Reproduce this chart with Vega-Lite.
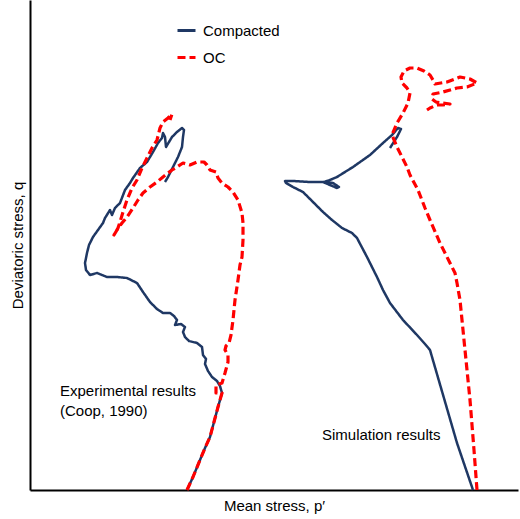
{
  "$schema": "https://vega.github.io/schema/vega-lite/v6.json",
  "width": 488,
  "height": 490,
  "autosize": {"type": "none"},
  "padding": {"left": 30, "top": 0, "right": 2, "bottom": 29},
  "background": "white",
  "config": {
    "view": {"stroke": null},
    "font": "Liberation Sans",
    "axis": {
      "domainColor": "#000000",
      "domainWidth": 2,
      "ticks": false,
      "labels": false,
      "grid": false,
      "titleFont": "Liberation Sans",
      "titleFontSize": 15,
      "titleFontWeight": "normal",
      "titleColor": "#000000"
    },
    "legend": {
      "labelFont": "Liberation Sans",
      "labelFontSize": 15,
      "labelColor": "#000000"
    }
  },
  "datasets": {
    "curves": [
      {"path":"expC","series":"Compacted","i":0,"p":187,"q":0},
      {"path":"expC","series":"Compacted","i":1,"p":193,"q":13},
      {"path":"expC","series":"Compacted","i":2,"p":200,"q":30},
      {"path":"expC","series":"Compacted","i":3,"p":205,"q":42},
      {"path":"expC","series":"Compacted","i":4,"p":210,"q":53},
      {"path":"expC","series":"Compacted","i":5,"p":214,"q":68},
      {"path":"expC","series":"Compacted","i":6,"p":218,"q":83},
      {"path":"expC","series":"Compacted","i":7,"p":222,"q":97},
      {"path":"expC","series":"Compacted","i":8,"p":220,"q":104},
      {"path":"expC","series":"Compacted","i":9,"p":217,"q":109},
      {"path":"expC","series":"Compacted","i":10,"p":212,"q":113},
      {"path":"expC","series":"Compacted","i":11,"p":208,"q":119},
      {"path":"expC","series":"Compacted","i":12,"p":205,"q":126},
      {"path":"expC","series":"Compacted","i":13,"p":206,"q":131},
      {"path":"expC","series":"Compacted","i":14,"p":203,"q":135},
      {"path":"expC","series":"Compacted","i":15,"p":202,"q":143},
      {"path":"expC","series":"Compacted","i":16,"p":197,"q":147},
      {"path":"expC","series":"Compacted","i":17,"p":189,"q":149},
      {"path":"expC","series":"Compacted","i":18,"p":185,"q":153},
      {"path":"expC","series":"Compacted","i":19,"p":183,"q":158},
      {"path":"expC","series":"Compacted","i":20,"p":185,"q":163},
      {"path":"expC","series":"Compacted","i":21,"p":181,"q":166},
      {"path":"expC","series":"Compacted","i":22,"p":175,"q":165},
      {"path":"expC","series":"Compacted","i":23,"p":177,"q":170},
      {"path":"expC","series":"Compacted","i":24,"p":174,"q":174},
      {"path":"expC","series":"Compacted","i":25,"p":170,"q":177},
      {"path":"expC","series":"Compacted","i":26,"p":163,"q":177},
      {"path":"expC","series":"Compacted","i":27,"p":157,"q":181},
      {"path":"expC","series":"Compacted","i":28,"p":150,"q":188},
      {"path":"expC","series":"Compacted","i":29,"p":143,"q":198},
      {"path":"expC","series":"Compacted","i":30,"p":137,"q":207},
      {"path":"expC","series":"Compacted","i":31,"p":127,"q":212},
      {"path":"expC","series":"Compacted","i":32,"p":117,"q":213},
      {"path":"expC","series":"Compacted","i":33,"p":107,"q":213},
      {"path":"expC","series":"Compacted","i":34,"p":97,"q":217},
      {"path":"expC","series":"Compacted","i":35,"p":90,"q":215},
      {"path":"expC","series":"Compacted","i":36,"p":86,"q":220},
      {"path":"expC","series":"Compacted","i":37,"p":85,"q":227},
      {"path":"expC","series":"Compacted","i":38,"p":87,"q":237},
      {"path":"expC","series":"Compacted","i":39,"p":89,"q":245},
      {"path":"expC","series":"Compacted","i":40,"p":93,"q":253},
      {"path":"expC","series":"Compacted","i":41,"p":98,"q":260},
      {"path":"expC","series":"Compacted","i":42,"p":103,"q":267},
      {"path":"expC","series":"Compacted","i":43,"p":105,"q":272},
      {"path":"expC","series":"Compacted","i":44,"p":110,"q":280},
      {"path":"expC","series":"Compacted","i":45,"p":112,"q":275},
      {"path":"expC","series":"Compacted","i":46,"p":115,"q":282},
      {"path":"expC","series":"Compacted","i":47,"p":120,"q":287},
      {"path":"expC","series":"Compacted","i":48,"p":125,"q":300},
      {"path":"expC","series":"Compacted","i":49,"p":130,"q":307},
      {"path":"expC","series":"Compacted","i":50,"p":133,"q":312},
      {"path":"expC","series":"Compacted","i":51,"p":140,"q":322},
      {"path":"expC","series":"Compacted","i":52,"p":147,"q":328},
      {"path":"expC","series":"Compacted","i":53,"p":153,"q":338},
      {"path":"expC","series":"Compacted","i":54,"p":158,"q":347},
      {"path":"expC","series":"Compacted","i":55,"p":162,"q":352},
      {"path":"expC","series":"Compacted","i":56,"p":163,"q":357},
      {"path":"expC","series":"Compacted","i":57,"p":165,"q":353},
      {"path":"expC","series":"Compacted","i":58,"p":166,"q":343},
      {"path":"expC","series":"Compacted","i":59,"p":169,"q":348},
      {"path":"expC","series":"Compacted","i":60,"p":172,"q":353},
      {"path":"expC","series":"Compacted","i":61,"p":177,"q":358},
      {"path":"expC","series":"Compacted","i":62,"p":182,"q":362},
      {"path":"expC","series":"Compacted","i":63,"p":184,"q":360},
      {"path":"expC","series":"Compacted","i":64,"p":183,"q":353},
      {"path":"expC","series":"Compacted","i":65,"p":182,"q":343},
      {"path":"expC","series":"Compacted","i":66,"p":178,"q":333},
      {"path":"expC","series":"Compacted","i":67,"p":173,"q":323},
      {"path":"expC","series":"Compacted","i":68,"p":168,"q":313},
      {"path":"expC","series":"Compacted","i":69,"p":165,"q":308},

      {"path":"simC","series":"Compacted","i":0,"p":473,"q":0},
      {"path":"simC","series":"Compacted","i":1,"p":457,"q":47},
      {"path":"simC","series":"Compacted","i":2,"p":430,"q":140},
      {"path":"simC","series":"Compacted","i":3,"p":425,"q":146},
      {"path":"simC","series":"Compacted","i":4,"p":417,"q":155},
      {"path":"simC","series":"Compacted","i":5,"p":403,"q":170},
      {"path":"simC","series":"Compacted","i":6,"p":390,"q":187},
      {"path":"simC","series":"Compacted","i":7,"p":383,"q":200},
      {"path":"simC","series":"Compacted","i":8,"p":377,"q":213},
      {"path":"simC","series":"Compacted","i":9,"p":367,"q":233},
      {"path":"simC","series":"Compacted","i":10,"p":357,"q":252},
      {"path":"simC","series":"Compacted","i":11,"p":352,"q":257},
      {"path":"simC","series":"Compacted","i":12,"p":342,"q":262},
      {"path":"simC","series":"Compacted","i":13,"p":332,"q":270},
      {"path":"simC","series":"Compacted","i":14,"p":323,"q":278},
      {"path":"simC","series":"Compacted","i":15,"p":313,"q":288},
      {"path":"simC","series":"Compacted","i":16,"p":303,"q":298},
      {"path":"simC","series":"Compacted","i":17,"p":293,"q":303},
      {"path":"simC","series":"Compacted","i":18,"p":286,"q":307},
      {"path":"simC","series":"Compacted","i":19,"p":285,"q":309},
      {"path":"simC","series":"Compacted","i":20,"p":293,"q":309},
      {"path":"simC","series":"Compacted","i":21,"p":310,"q":308},
      {"path":"simC","series":"Compacted","i":22,"p":323,"q":308},
      {"path":"simC","series":"Compacted","i":23,"p":330,"q":305},
      {"path":"simC","series":"Compacted","i":24,"p":337,"q":302},
      {"path":"simC","series":"Compacted","i":25,"p":339,"q":303},
      {"path":"simC","series":"Compacted","i":26,"p":333,"q":307},
      {"path":"simC","series":"Compacted","i":27,"p":324,"q":308},
      {"path":"simC","series":"Compacted","i":28,"p":330,"q":310},
      {"path":"simC","series":"Compacted","i":29,"p":337,"q":313},
      {"path":"simC","series":"Compacted","i":30,"p":353,"q":323},
      {"path":"simC","series":"Compacted","i":31,"p":370,"q":335},
      {"path":"simC","series":"Compacted","i":32,"p":383,"q":347},
      {"path":"simC","series":"Compacted","i":33,"p":392,"q":355},
      {"path":"simC","series":"Compacted","i":34,"p":398,"q":362},
      {"path":"simC","series":"Compacted","i":35,"p":401,"q":361},
      {"path":"simC","series":"Compacted","i":36,"p":397,"q":353},
      {"path":"simC","series":"Compacted","i":37,"p":390,"q":342},

      {"path":"expOC","series":"OC","i":0,"p":187,"q":0},
      {"path":"expOC","series":"OC","i":1,"p":193,"q":13},
      {"path":"expOC","series":"OC","i":2,"p":200,"q":30},
      {"path":"expOC","series":"OC","i":3,"p":205,"q":42},
      {"path":"expOC","series":"OC","i":4,"p":210,"q":53},
      {"path":"expOC","series":"OC","i":5,"p":214,"q":68},
      {"path":"expOC","series":"OC","i":6,"p":218,"q":83},
      {"path":"expOC","series":"OC","i":7,"p":222,"q":97},
      {"path":"expOC","series":"OC","i":8,"p":216,"q":97},
      {"path":"expOC","series":"OC","i":9,"p":216,"q":105},
      {"path":"expOC","series":"OC","i":10,"p":222,"q":107},
      {"path":"expOC","series":"OC","i":11,"p":225,"q":117},
      {"path":"expOC","series":"OC","i":12,"p":228,"q":128},
      {"path":"expOC","series":"OC","i":13,"p":228,"q":135},
      {"path":"expOC","series":"OC","i":14,"p":225,"q":140},
      {"path":"expOC","series":"OC","i":15,"p":226,"q":144},
      {"path":"expOC","series":"OC","i":16,"p":229,"q":147},
      {"path":"expOC","series":"OC","i":17,"p":231,"q":155},
      {"path":"expOC","series":"OC","i":18,"p":233,"q":170},
      {"path":"expOC","series":"OC","i":19,"p":235,"q":190},
      {"path":"expOC","series":"OC","i":20,"p":238,"q":210},
      {"path":"expOC","series":"OC","i":21,"p":240,"q":225},
      {"path":"expOC","series":"OC","i":22,"p":242,"q":233},
      {"path":"expOC","series":"OC","i":23,"p":243,"q":250},
      {"path":"expOC","series":"OC","i":24,"p":243,"q":267},
      {"path":"expOC","series":"OC","i":25,"p":242,"q":277},
      {"path":"expOC","series":"OC","i":26,"p":238,"q":290},
      {"path":"expOC","series":"OC","i":27,"p":233,"q":298},
      {"path":"expOC","series":"OC","i":28,"p":228,"q":303},
      {"path":"expOC","series":"OC","i":29,"p":222,"q":307},
      {"path":"expOC","series":"OC","i":30,"p":218,"q":312},
      {"path":"expOC","series":"OC","i":31,"p":216,"q":318},
      {"path":"expOC","series":"OC","i":32,"p":210,"q":320},
      {"path":"expOC","series":"OC","i":33,"p":207,"q":325},
      {"path":"expOC","series":"OC","i":34,"p":204,"q":328},
      {"path":"expOC","series":"OC","i":35,"p":197,"q":328},
      {"path":"expOC","series":"OC","i":36,"p":190,"q":325},
      {"path":"expOC","series":"OC","i":37,"p":183,"q":327},
      {"path":"expOC","series":"OC","i":38,"p":177,"q":323},
      {"path":"expOC","series":"OC","i":39,"p":172,"q":320},
      {"path":"expOC","series":"OC","i":40,"p":163,"q":313},
      {"path":"expOC","series":"OC","i":41,"p":157,"q":308},
      {"path":"expOC","series":"OC","i":42,"p":150,"q":303},
      {"path":"expOC","series":"OC","i":43,"p":143,"q":297},
      {"path":"expOC","series":"OC","i":44,"p":138,"q":290},
      {"path":"expOC","series":"OC","i":45,"p":133,"q":282},
      {"path":"expOC","series":"OC","i":46,"p":127,"q":273},
      {"path":"expOC","series":"OC","i":47,"p":122,"q":267},
      {"path":"expOC","series":"OC","i":48,"p":117,"q":260},
      {"path":"expOC","series":"OC","i":49,"p":114,"q":255},
      {"path":"expOC","series":"OC","i":50,"p":118,"q":262},
      {"path":"expOC","series":"OC","i":51,"p":120,"q":268},
      {"path":"expOC","series":"OC","i":52,"p":123,"q":278},
      {"path":"expOC","series":"OC","i":53,"p":127,"q":290},
      {"path":"expOC","series":"OC","i":54,"p":132,"q":302},
      {"path":"expOC","series":"OC","i":55,"p":137,"q":310},
      {"path":"expOC","series":"OC","i":56,"p":142,"q":322},
      {"path":"expOC","series":"OC","i":57,"p":147,"q":332},
      {"path":"expOC","series":"OC","i":58,"p":152,"q":342},
      {"path":"expOC","series":"OC","i":59,"p":157,"q":350},
      {"path":"expOC","series":"OC","i":60,"p":160,"q":362},
      {"path":"expOC","series":"OC","i":61,"p":163,"q":368},
      {"path":"expOC","series":"OC","i":62,"p":168,"q":372},
      {"path":"expOC","series":"OC","i":63,"p":172,"q":376},
      {"path":"expOC","series":"OC","i":64,"p":170,"q":370},

      {"path":"simOC","series":"OC","i":0,"p":477,"q":0},
      {"path":"simOC","series":"OC","i":1,"p":474,"q":40},
      {"path":"simOC","series":"OC","i":2,"p":470,"q":90},
      {"path":"simOC","series":"OC","i":3,"p":467,"q":120},
      {"path":"simOC","series":"OC","i":4,"p":465,"q":140},
      {"path":"simOC","series":"OC","i":5,"p":462,"q":170},
      {"path":"simOC","series":"OC","i":6,"p":460,"q":190},
      {"path":"simOC","series":"OC","i":7,"p":457,"q":207},
      {"path":"simOC","series":"OC","i":8,"p":455,"q":217},
      {"path":"simOC","series":"OC","i":9,"p":450,"q":227},
      {"path":"simOC","series":"OC","i":10,"p":440,"q":247},
      {"path":"simOC","series":"OC","i":11,"p":430,"q":270},
      {"path":"simOC","series":"OC","i":12,"p":425,"q":282},
      {"path":"simOC","series":"OC","i":13,"p":418,"q":300},
      {"path":"simOC","series":"OC","i":14,"p":410,"q":315},
      {"path":"simOC","series":"OC","i":15,"p":407,"q":323},
      {"path":"simOC","series":"OC","i":16,"p":397,"q":343},
      {"path":"simOC","series":"OC","i":17,"p":392,"q":355},
      {"path":"simOC","series":"OC","i":18,"p":397,"q":367},
      {"path":"simOC","series":"OC","i":19,"p":403,"q":377},
      {"path":"simOC","series":"OC","i":20,"p":408,"q":387},
      {"path":"simOC","series":"OC","i":21,"p":410,"q":397},
      {"path":"simOC","series":"OC","i":22,"p":407,"q":402},
      {"path":"simOC","series":"OC","i":23,"p":402,"q":407},
      {"path":"simOC","series":"OC","i":24,"p":401,"q":413},
      {"path":"simOC","series":"OC","i":25,"p":404,"q":419},
      {"path":"simOC","series":"OC","i":26,"p":410,"q":422},
      {"path":"simOC","series":"OC","i":27,"p":417,"q":422},
      {"path":"simOC","series":"OC","i":28,"p":424,"q":419},
      {"path":"simOC","series":"OC","i":29,"p":430,"q":415},
      {"path":"simOC","series":"OC","i":30,"p":433,"q":410},
      {"path":"simOC","series":"OC","i":31,"p":435,"q":406},
      {"path":"simOC","series":"OC","i":32,"p":447,"q":408},
      {"path":"simOC","series":"OC","i":33,"p":460,"q":413},
      {"path":"simOC","series":"OC","i":34,"p":470,"q":411},
      {"path":"simOC","series":"OC","i":35,"p":477,"q":407},
      {"path":"simOC","series":"OC","i":36,"p":467,"q":403},
      {"path":"simOC","series":"OC","i":37,"p":457,"q":402},
      {"path":"simOC","series":"OC","i":38,"p":443,"q":398},
      {"path":"simOC","series":"OC","i":39,"p":433,"q":396},
      {"path":"simOC","series":"OC","i":40,"p":432,"q":391},
      {"path":"simOC","series":"OC","i":41,"p":436,"q":388},
      {"path":"simOC","series":"OC","i":42,"p":442,"q":387},
      {"path":"simOC","series":"OC","i":43,"p":450,"q":386},
      {"path":"simOC","series":"OC","i":44,"p":443,"q":385},
      {"path":"simOC","series":"OC","i":45,"p":437,"q":385},
      {"path":"simOC","series":"OC","i":46,"p":430,"q":382},
      {"path":"simOC","series":"OC","i":47,"p":427,"q":380}
    ],
    "labels": [
      {"t":"Experimental results","p":60,"q":99},
      {"t":"(Coop, 1990)","p":60,"q":79},
      {"t":"Simulation results","p":322,"q":55}
    ]
  },
  "encoding": {
    "x": {"field": "p", "type": "quantitative", "scale": {"domain": [30, 518], "nice": false, "zero": false},
          "axis": {"title": "Mean stress, p′", "titlePadding": 8}},
    "y": {"field": "q", "type": "quantitative", "scale": {"domain": [0, 490], "nice": false, "zero": false},
          "axis": {"title": "Deviatoric stress, q", "titlePadding": 5}}
  },
  "layer": [
    {
      "data": {"name": "curves"},
      "transform": [{"filter": "datum.series === 'Compacted'"}],
      "mark": {"type": "line", "strokeWidth": 2.5, "interpolate": "linear", "strokeJoin": "round"},
      "encoding": {
        "detail": {"field": "path"},
        "order": {"field": "i", "type": "quantitative"},
        "color": {"field": "series", "type": "nominal", "title": null,
                  "scale": {"domain": ["Compacted", "OC"], "range": ["#1F3864", "#FF0000"]},
                  "legend": {"orient": "none", "legendX": 146, "legendY": 20, "padding": 0,
                             "symbolType": "stroke", "symbolSize": 324, "symbolStrokeWidth": 3,
                             "rowPadding": 8, "labelOffset": 6, "labelFontSize": 15}},
        "strokeDash": {"field": "series", "type": "nominal", "title": null,
                       "scale": {"domain": ["Compacted", "OC"], "range": [[1, 0], [8, 4]]}}
      }
    },
    {
      "data": {"name": "curves"},
      "transform": [{"filter": "datum.series === 'OC'"}],
      "mark": {"type": "line", "strokeWidth": 3.2, "interpolate": "linear", "strokeJoin": "round"},
      "encoding": {
        "detail": {"field": "path"},
        "order": {"field": "i", "type": "quantitative"},
        "color": {"field": "series", "type": "nominal", "title": null},
        "strokeDash": {"field": "series", "type": "nominal", "title": null}
      }
    },
    {
      "data": {"name": "labels"},
      "mark": {"type": "text", "align": "left", "baseline": "middle", "fontSize": 15, "font": "Liberation Sans", "color": "#000000"},
      "encoding": {"text": {"field": "t", "type": "nominal"}}
    }
  ]
}
